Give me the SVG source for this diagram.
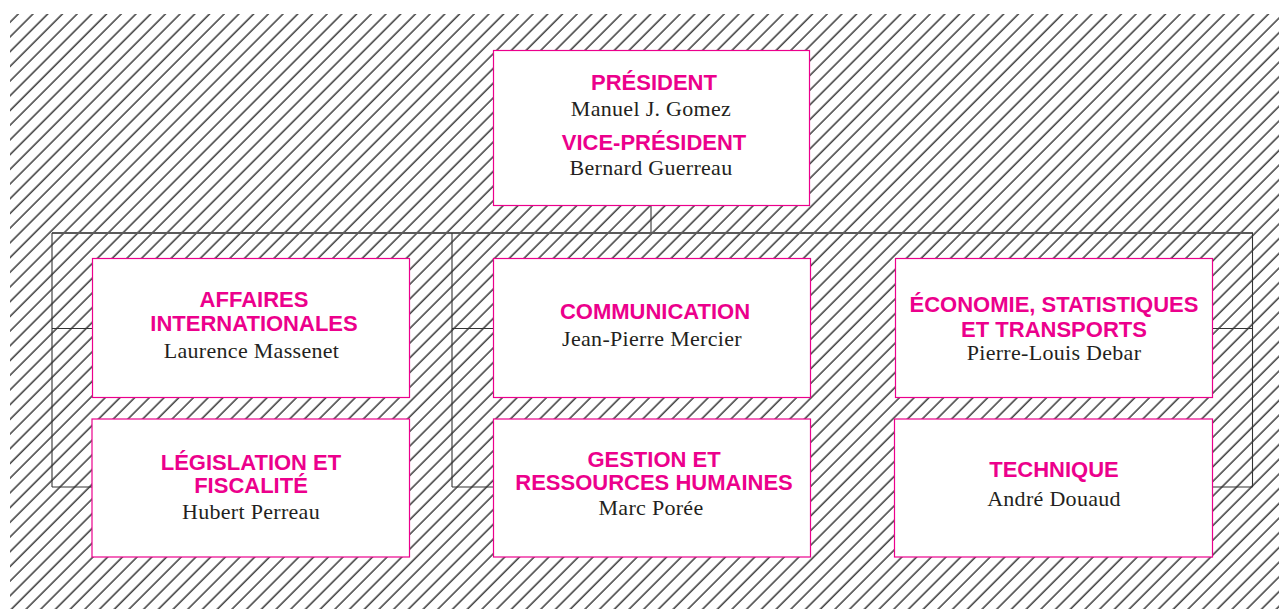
<svg xmlns="http://www.w3.org/2000/svg" width="1279" height="609" viewBox="0 0 1279 609">
  <defs>
    <pattern id="hatch" patternUnits="userSpaceOnUse" width="10.4" height="10.4" patternTransform="rotate(45)">
      <line x1="2" y1="0" x2="2" y2="10.4" stroke="#111" stroke-width="1.25"/>
    </pattern>
  </defs>
  <style>
    .box { fill: #ffffff; stroke: #ec008c; stroke-width: 1.2; }
    .t { font-family: "Liberation Sans", Arial, sans-serif; font-weight: bold; font-size: 22px; fill: #ec008c; text-anchor: middle; }
    .n { font-family: "Liberation Serif", "Times New Roman", serif; font-size: 22px; fill: #231f20; text-anchor: middle; letter-spacing: 0.3px; }
    .ln { stroke: #333; stroke-width: 1.1; fill: none; }
    .top { stroke: #5a5a5a; stroke-width: 2; fill: none; }
  </style>

  <rect x="10" y="14" width="1269" height="595" fill="#ffffff"/>
  <rect x="10" y="14" width="1269" height="595" fill="url(#hatch)"/>

  <g id="connectors">
    <line class="ln" x1="651" y1="206" x2="651" y2="233"/>
    <line class="top" x1="52" y1="233" x2="1253" y2="233"/>
    <line class="ln" x1="52" y1="233" x2="52" y2="487"/>
    <line class="ln" x1="452" y1="233" x2="452" y2="487"/>
    <line class="ln" x1="1252.5" y1="233" x2="1252.5" y2="487"/>
    <line class="ln" x1="52" y1="328.5" x2="92.5" y2="328.5"/>
    <line class="ln" x1="52" y1="487" x2="92.5" y2="487"/>
    <line class="ln" x1="452" y1="328.5" x2="493.5" y2="328.5"/>
    <line class="ln" x1="452" y1="487" x2="493.5" y2="487"/>
    <line class="ln" x1="1212.5" y1="328.5" x2="1252.5" y2="328.5"/>
    <line class="ln" x1="1212.5" y1="487" x2="1252.5" y2="487"/>
  </g>

  <g id="president">
    <rect class="box" x="493.5" y="50.5" width="316" height="155"/>
    <text class="t" x="654" y="90">PRÉSIDENT</text>
    <text class="n" x="651" y="116">Manuel J. Gomez</text>
    <text class="t" x="654" y="150">VICE-PRÉSIDENT</text>
    <text class="n" x="651" y="175">Bernard Guerreau</text>
  </g>

  <g id="affaires-internationales">
    <rect class="box" x="92.5" y="258.5" width="317" height="139"/>
    <text class="t" x="254" y="307">AFFAIRES</text>
    <text class="t" x="254" y="331">INTERNATIONALES</text>
    <text class="n" x="251.5" y="358">Laurence Massenet</text>
  </g>

  <g id="communication">
    <rect class="box" x="493.5" y="258.5" width="317" height="139"/>
    <text class="t" x="655" y="319">COMMUNICATION</text>
    <text class="n" x="652" y="346">Jean-Pierre Mercier</text>
  </g>

  <g id="economie">
    <rect class="box" x="895.5" y="258.5" width="317" height="139"/>
    <text class="t" x="1054" y="312">ÉCONOMIE, STATISTIQUES</text>
    <text class="t" x="1054" y="336.5">ET TRANSPORTS</text>
    <text class="n" x="1054" y="360">Pierre-Louis Debar</text>
  </g>

  <g id="legislation">
    <rect class="box" x="92" y="419" width="317.5" height="138"/>
    <text class="t" x="251" y="470">LÉGISLATION ET</text>
    <text class="t" x="251" y="492.5">FISCALITÉ</text>
    <text class="n" x="251" y="519">Hubert Perreau</text>
  </g>

  <g id="gestion">
    <rect class="box" x="493.5" y="419" width="317" height="138"/>
    <text class="t" x="654" y="467">GESTION ET</text>
    <text class="t" x="654" y="490">RESSOURCES HUMAINES</text>
    <text class="n" x="651" y="515">Marc Porée</text>
  </g>

  <g id="technique">
    <rect class="box" x="894.5" y="419" width="318" height="138"/>
    <text class="t" x="1054" y="477">TECHNIQUE</text>
    <text class="n" x="1054" y="506">André Douaud</text>
  </g>
</svg>
